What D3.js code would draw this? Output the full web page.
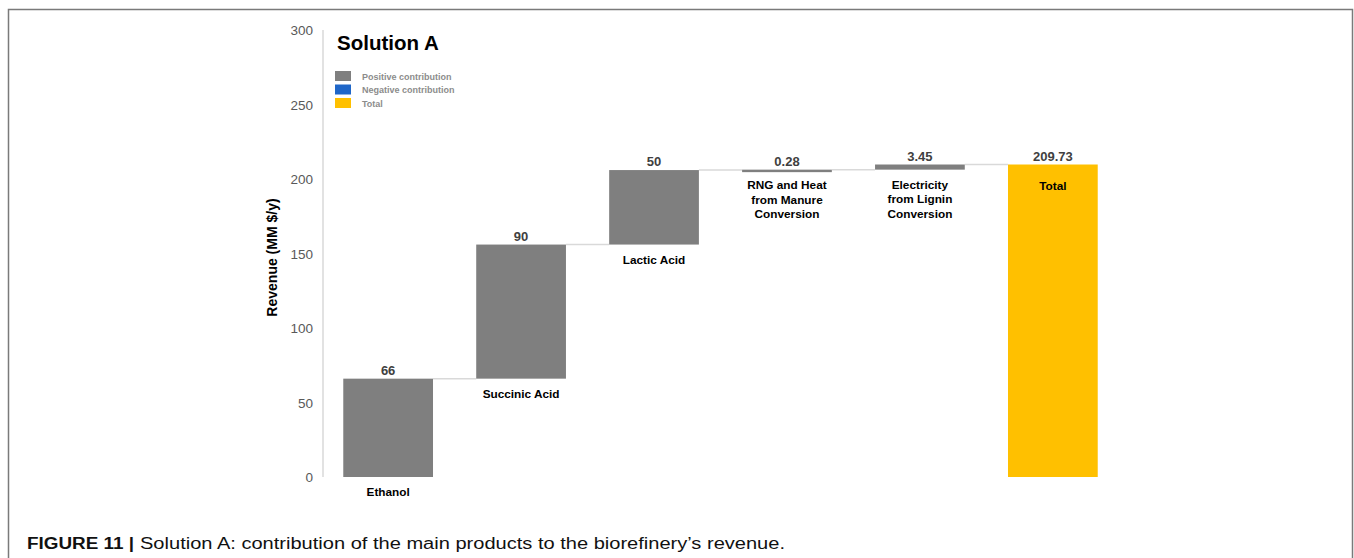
<!DOCTYPE html>
<html>
<head>
<meta charset="utf-8">
<script src="https://cdn.jsdelivr.net/npm/d3@7"></script>
<style>
  body { margin: 0; background: #fff; }
  svg { display: block; font-family: "Liberation Sans", Arial, sans-serif; }
</style>
</head>
<body>
<svg width="1354" height="558"></svg>
<script>
// chart data
const categories = ["Ethanol", "Succinic Acid", "Lactic Acid", "RNG and Heat|from Manure|Conversion", "Electricity|from Lignin|Conversion", "Total"];
const values = [66, 90, 50, 0.28, 3.45, 209.73];
const valueLabels = ["66", "90", "50", "0.28", "3.45", "209.73"];
const yTicks = [0, 50, 100, 150, 200, 250, 300];
const legendItems = ["Positive contribution", "Negative contribution", "Total"];

const svg = d3.select("svg");

// frame around the figure
svg.append("path")
  .attr("d", "M8.5,560 V9.5 H1352.5 V560")
  .attr("fill", "none")
  .attr("stroke", "#7a7a7a")
  .attr("stroke-width", 1.5);

const y = d3.scaleLinear().domain([0, 300]).range([477, 30]);
const x = d3.scaleBand().domain(categories).range([322, 1119]).paddingInner(0.325).paddingOuter(0.16);

// build waterfall steps
let run = 0;
const steps = categories.map((c, i) => {
  const isTotal = i === categories.length - 1;
  const start = isTotal ? 0 : run;
  const end = isTotal ? values[i] : run + values[i];
  if (!isTotal) run = end;
  return { c, start, end, isTotal, label: valueLabels[i] };
});

// y axis
svg.append("line")
  .attr("x1", 323).attr("x2", 323)
  .attr("y1", y(300)).attr("y2", y(0))
  .attr("stroke", "#d9d9d9").attr("stroke-width", 1.5);

svg.selectAll(".ytick").data(yTicks).join("text")
  .attr("class", "ytick")
  .attr("x", 313).attr("y", (d) => y(d) + 5)
  .attr("text-anchor", "end")
  .attr("font-size", 13.5).attr("fill", "#595959")
  .text((d) => d);

svg.append("text")
  .attr("transform", `translate(277,${(y(300) + y(0)) / 2 + 4}) rotate(-90)`)
  .attr("text-anchor", "middle")
  .attr("font-size", 14).attr("font-weight", "bold").attr("fill", "#000")
  .text("Revenue (MM $/y)");

// connectors
svg.selectAll(".conn").data(steps.slice(0, -1)).join("line")
  .attr("class", "conn")
  .attr("x1", (d) => x(d.c) + x.bandwidth())
  .attr("x2", (d, i) => x(categories[i + 1]))
  .attr("y1", (d) => y(d.end)).attr("y2", (d) => y(d.end))
  .attr("stroke", "#d9d9d9").attr("stroke-width", 1.5);

// bars
svg.selectAll(".bar").data(steps).join("rect")
  .attr("class", "bar")
  .attr("x", (d) => x(d.c))
  .attr("width", x.bandwidth())
  .attr("y", (d) => y(Math.max(d.start, d.end)))
  .attr("height", (d) => Math.max(2.5, Math.abs(y(d.start) - y(d.end))))
  .attr("fill", (d) => (d.isTotal ? "#ffc000" : "#7f7f7f"));

// value labels
svg.selectAll(".val").data(steps).join("text")
  .attr("class", "val")
  .attr("x", (d) => x(d.c) + x.bandwidth() / 2)
  .attr("y", (d) => y(d.end) - 4)
  .attr("text-anchor", "middle")
  .attr("font-size", 13).attr("font-weight", "bold").attr("fill", "#404040")
  .text((d) => d.label);

// category labels
const cat = svg.selectAll(".cat").data(steps).join("text")
  .attr("class", "cat")
  .attr("text-anchor", "middle")
  .attr("font-size", 11.8).attr("font-weight", "bold").attr("fill", "#000")
  .attr("transform", (d) => {
    const base = d.isTotal ? y(d.end) + 25 : y(d.start) + 19;
    return `translate(${x(d.c) + x.bandwidth() / 2},${base})`;
  });
cat.selectAll("tspan").data((d) => d.c.split("|")).join("tspan")
  .attr("x", 0).attr("dy", (d, i) => (i === 0 ? 0 : 14.5))
  .text((d) => d);

// title and legend
svg.append("text")
  .attr("x", 337).attr("y", 50)
  .attr("font-size", 20.5).attr("font-weight", "bold").attr("fill", "#000")
  .text("Solution A");

const legendColors = ["#7f7f7f", "#1f66c8", "#ffc000"];
const lg = svg.selectAll(".lg").data(legendItems).join("g")
  .attr("class", "lg")
  .attr("transform", (d, i) => `translate(335,${71 + i * 13.5})`);
lg.append("rect").attr("width", 16).attr("height", 10)
  .attr("fill", (d, i) => legendColors[i]);
lg.append("text").attr("x", 27).attr("y", 8.5)
  .attr("font-size", 9).attr("font-weight", "bold").attr("fill", "#8c8c8c")
  .text((d) => d);

// caption
svg.append("text").attr("x", 27).attr("y", 549)
  .attr("font-size", 16).attr("font-weight", "bold").attr("fill", "#111")
  .attr("textLength", 107).attr("lengthAdjust", "spacingAndGlyphs")
  .text("FIGURE 11 |");
svg.append("text").attr("x", 140).attr("y", 549)
  .attr("font-size", 16).attr("fill", "#111")
  .attr("textLength", 645).attr("lengthAdjust", "spacingAndGlyphs")
  .text("Solution A: contribution of the main products to the biorefinery’s revenue.");
</script>
</body>
</html>
